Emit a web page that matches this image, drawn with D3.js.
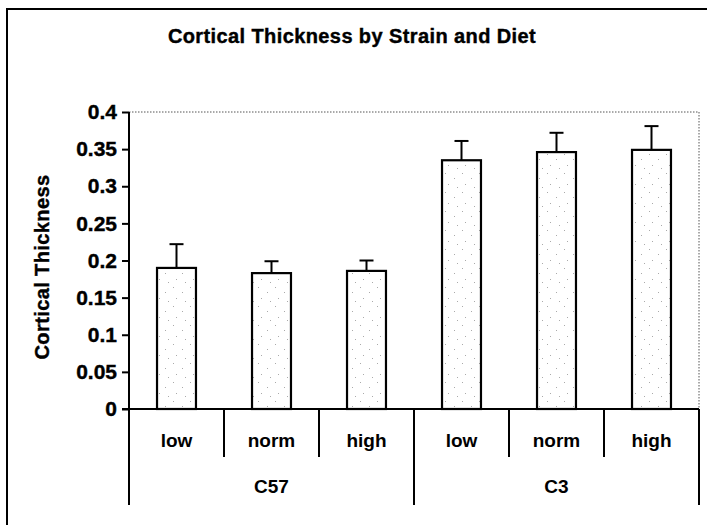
<!DOCTYPE html>
<html lang="en">
<head>
    <meta charset="UTF-8">
    <script src="https://cdn.jsdelivr.net/npm/d3@7/dist/d3.min.js" type="text/javascript"></script>
    <title>Cortical Thickness by Strain and Diet</title>
    <style>
        body { margin: 0; background: #fff; }
        svg { display: block; }
    </style>
</head>
<body>

<svg width="707" height="525"></svg>

<script>
    // data
    const strains = ["C57", "C3"];
    const diets = ["low", "norm", "high"];
    const thickness = [0.190, 0.183, 0.186, 0.335, 0.346, 0.349];
    const errors = [0.032, 0.016, 0.014, 0.026, 0.026, 0.032];
    const yTicks = [0, 0.05, 0.1, 0.15, 0.2, 0.25, 0.3, 0.35, 0.4];

    // one row per bar
    const data = [];
    strains.forEach((s, i) => {
        diets.forEach((d, j) => {
            const k = i * diets.length + j;
            data.push({key: s + "-" + d, strain: s, diet: d, value: thickness[k], err: errors[k]});
        });
    });

    const width = 707;
    const height = 525;
    const margin = {top: 112, right: 8, bottom: 116, left: 129};
    const font = "'Liberation Sans', Arial, Helvetica, sans-serif";

    const svg = d3.select("svg");

    // sparse speckle like the scanned bars
    const defs = svg.append("defs");
    const pat = defs.append("pattern")
        .attr("id", "speckle")
        .attr("patternUnits", "userSpaceOnUse")
        .attr("width", 17)
        .attr("height", 19);
    pat.append("rect").attr("width", 17).attr("height", 19).attr("fill", "#fff");
    [[3, 2], [12, 7], [6, 13], [15, 16]].forEach(p => {
        pat.append("rect")
            .attr("x", p[0]).attr("y", p[1])
            .attr("width", 1).attr("height", 1)
            .attr("fill", "#aaa");
    });

    // outer frame (right and bottom edges fall off the page)
    svg.append("rect")
        .attr("x", 7)
        .attr("y", 9)
        .attr("width", 740)
        .attr("height", 560)
        .attr("fill", "none")
        .attr("stroke", "#000")
        .attr("stroke-width", 2);

    const x = d3.scaleBand()
        .domain(data.map(d => d.key))
        .range([margin.left, width - margin.right])
        .paddingInner(0.59)
        .paddingOuter(0.295);

    const y = d3.scaleLinear()
        .domain([0, 0.4])
        .range([height - margin.bottom, margin.top]);

    const x0 = margin.left;
    const x1 = width - margin.right;
    const step = (x1 - x0) / data.length;

    // dotted plot border top/right
    svg.append("path")
        .attr("d", `M${x0},${y(0.4)}H${x1}V${y(0)}`)
        .attr("fill", "none")
        .attr("stroke", "#555")
        .attr("stroke-width", 1)
        .attr("stroke-dasharray", "1.5,1.5");

    // bars
    svg.append("g")
        .selectAll("rect")
        .data(data)
        .join("rect")
        .attr("x", d => x(d.key))
        .attr("y", d => y(d.value))
        .attr("width", x.bandwidth())
        .attr("height", d => y(0) - y(d.value))
        .attr("fill", "url(#speckle)")
        .attr("stroke", "#000")
        .attr("stroke-width", 2.2);

    // error bars (upper only)
    const eb = svg.append("g")
        .attr("stroke", "#000")
        .attr("stroke-width", 2);
    eb.selectAll("line.stem")
        .data(data)
        .join("line")
        .attr("class", "stem")
        .attr("x1", d => x(d.key) + x.bandwidth() / 2)
        .attr("x2", d => x(d.key) + x.bandwidth() / 2)
        .attr("y1", d => y(d.value))
        .attr("y2", d => y(d.value + d.err));
    eb.selectAll("line.cap")
        .data(data)
        .join("line")
        .attr("class", "cap")
        .attr("x1", d => x(d.key) + x.bandwidth() / 2 - 7)
        .attr("x2", d => x(d.key) + x.bandwidth() / 2 + 7)
        .attr("y1", d => y(d.value + d.err))
        .attr("y2", d => y(d.value + d.err));

    // y axis
    const yAxis = svg.append("g")
        .attr("transform", `translate(${x0},0)`)
        .call(d3.axisLeft(y).tickValues(yTicks).tickSize(7).tickPadding(5).tickFormat(d3.format("")));
    yAxis.select(".domain").remove();
    yAxis.selectAll(".tick line").attr("stroke-width", 2);
    yAxis.selectAll("text")
        .attr("font-family", font)
        .attr("font-size", 21)
        .attr("font-weight", "bold")
        .attr("fill", "#000")
        .attr("stroke", "#000")
        .attr("stroke-width", 0.4);

    // axis lines
    svg.append("line")
        .attr("x1", x0).attr("x2", x0)
        .attr("y1", y(0.4)).attr("y2", 505)
        .attr("stroke", "#000").attr("stroke-width", 2);
    svg.append("line")
        .attr("x1", x0 - 7).attr("x2", x1)
        .attr("y1", y(0)).attr("y2", y(0))
        .attr("stroke", "#000").attr("stroke-width", 2);

    // category separators: short between diets, long between strains
    const seps = d3.range(1, data.length + 1);
    svg.append("g")
        .selectAll("line")
        .data(seps)
        .join("line")
        .attr("x1", i => x0 + i * step)
        .attr("x2", i => x0 + i * step)
        .attr("y1", y(0))
        .attr("y2", i => i % diets.length === 0 ? 505 : 457)
        .attr("stroke", "#000")
        .attr("stroke-width", 2);

    // diet labels
    svg.append("g")
        .selectAll("text")
        .data(data)
        .join("text")
        .attr("x", d => x(d.key) + x.bandwidth() / 2)
        .attr("y", 447)
        .attr("text-anchor", "middle")
        .attr("font-family", font)
        .attr("font-size", 19)
        .attr("font-weight", "bold")
        .text(d => d.diet);

    // strain labels
    svg.append("g")
        .selectAll("text")
        .data(strains)
        .join("text")
        .attr("x", (d, i) => x0 + (i + 0.5) * diets.length * step)
        .attr("y", 493)
        .attr("text-anchor", "middle")
        .attr("font-family", font)
        .attr("font-size", 19)
        .attr("font-weight", "bold")
        .text(d => d);

    // title
    svg.append("text")
        .attr("x", 352)
        .attr("y", 43)
        .attr("text-anchor", "middle")
        .attr("font-family", font)
        .attr("font-size", 20)
        .attr("font-weight", "bold")
        .attr("letter-spacing", 0.4)
        .attr("stroke", "#000")
        .attr("stroke-width", 0.4)
        .text("Cortical Thickness by Strain and Diet");

    // y label
    svg.append("text")
        .attr("transform", `translate(49,267) rotate(-90)`)
        .attr("text-anchor", "middle")
        .attr("font-family", font)
        .attr("font-size", 20)
        .attr("font-weight", "bold")
        .attr("letter-spacing", 0.4)
        .attr("stroke", "#000")
        .attr("stroke-width", 0.4)
        .text("Cortical Thickness");
</script>

</body>
</html>
